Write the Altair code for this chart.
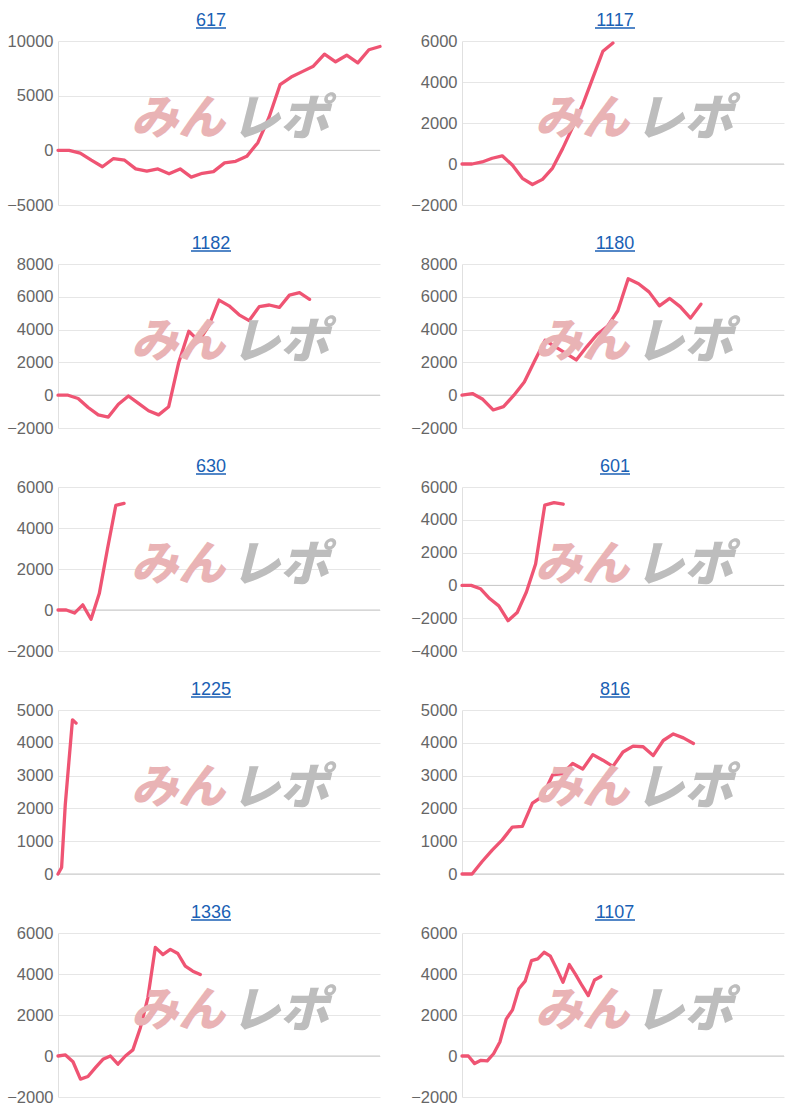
import altair as alt
import pandas as pd

titles = ["617", "1117", "1182", "1180", "630", "601", "1225", "816", "1336", "1107"]

# number of x slots on each panel's horizontal axis
slots = [30, 33, 33, 32, 40, 36, 90, 33, 44, 52]

s617 = [0, 0, -250, -900, -1500, -750, -900, -1700, -1900, -1700, -2150, -1700, -2450,
        -2100, -1950, -1150, -1000, -550, 700, 3000, 6000, 6700, 7200, 7700, 8800, 8100,
        8700, 8000, 9200, 9500]
s1117 = [0, 0, 100, 280, 400, -50, -700, -1000, -750, -200, 750, 1800, 2900, 4200, 5500, 5900]
s1182 = [0, 0, -200, -750, -1200, -1330, -550, -50, -500, -950, -1200, -700, 2000, 3900,
         3300, 4250, 5800, 5450, 4900, 4550, 5400, 5500, 5350, 6100, 6250, 5850]
s1180 = [0, 100, -250, -900, -700, 0, 800, 2100, 3350, 2950, 2550, 2150, 2950, 3700, 4200,
         5150, 7100, 6800, 6300, 5450, 5900, 5400, 4700, 5550]
s630 = [0, 0, -150, 250, -450, 800, 3000, 5100, 5200]
s601 = [0, 0, -200, -800, -1250, -2150, -1650, -400, 1300, 4900, 5050, 4950]
s1225 = [0, 200, 2100, 3400, 4700, 4600]
s816 = [0, 0, 380, 730, 1040, 1430, 1450, 2160, 2370, 3020, 3060, 3370, 3200, 3640, 3470,
        3280, 3720, 3900, 3880, 3610, 4070, 4270, 4150, 3980]
s1336 = [0, 50, -280, -1130, -1000, -570, -160, 0, -400, 0, 300, 1380, 2840, 5300, 4950,
         5200, 5000, 4380, 4140, 3970]
s1107 = [0, 0, -370, -210, -240, 110, 680, 1800, 2250, 3280, 3650, 4650, 4740, 5060, 4870,
         4250, 3600, 4460, 3970, 3440, 2950, 3710, 3880]

series = [s617, s1117, s1182, s1180, s630, s601, s1225, s816, s1336, s1107]

ticks_a = [-2000, 0, 2000, 4000, 6000]
ticks_b = [-2000, 0, 2000, 4000, 6000, 8000]
ticks_c = [0, 1000, 2000, 3000, 4000, 5000]
y_ticks = [
    [-5000, 0, 5000, 10000],
    ticks_a,
    ticks_b,
    ticks_b,
    ticks_a,
    [-4000, -2000, 0, 2000, 4000, 6000],
    ticks_c,
    ticks_c,
    ticks_a,
    ticks_a,
]

W = 322
H = 164
LINE = "#ef5473"
BLUE = "#1a5fb4"
one = pd.DataFrame({"k": [0]})


def panel(i):
    vals = series[i]
    df = pd.DataFrame({"x": list(range(len(vals))), "y": vals})
    ticks = y_ticks[i]
    ys = alt.Scale(domain=[ticks[0], ticks[-1]], nice=False, zero=False)
    xs = alt.Scale(domain=[0, slots[i] - 1], nice=False, zero=False)
    yaxis = alt.Axis(values=ticks, grid=True, gridColor="#e6e6e6", domainColor="#e0e0e0",
                     ticks=False, labelFontSize=16.5, labelColor="#666666",
                     labelFont="Liberation Sans", labelPadding=5, minExtent=50,
                     maxExtent=50, title=None, format="d")

    mark1 = alt.Chart(one).mark_text(text="みん", font="Noto Sans CJK JP", fontSize=47,
                                     fontWeight=900, fontStyle="italic",
                                     color="#e9b3b5", align="center",
                                     baseline="middle").encode(
        x=alt.value(120), y=alt.value(79))
    mark2 = alt.Chart(one).mark_text(text="レポ", font="Noto Sans CJK JP", fontSize=49,
                                     fontWeight=900, fontStyle="italic",
                                     color="#bdbdbd", align="center",
                                     baseline="middle").encode(
        x=alt.value(222), y=alt.value(79))

    zero = alt.Chart(one).transform_calculate(z="0").mark_rule(
        color="#c8c8c8", strokeWidth=1).encode(
        y=alt.Y("z:Q", scale=ys, axis=yaxis))

    line = alt.Chart(df).mark_line(color=LINE, strokeWidth=3.3, strokeJoin="round",
                                   strokeCap="round").encode(
        x=alt.X("x:Q", scale=xs, axis=None),
        y=alt.Y("y:Q", scale=ys, axis=yaxis),
    )

    tw = 10 * len(titles[i])
    cx = W / 2 - 8
    title = alt.Chart(one).mark_text(text=titles[i], font="Liberation Sans", fontSize=18,
                                     color=BLUE, align="center",
                                     baseline="alphabetic").encode(
        x=alt.value(cx), y=alt.value(-15))
    underline = alt.Chart(one).mark_rule(color=BLUE, strokeWidth=1.5).encode(
        x=alt.value(cx - tw / 2), x2=alt.value(cx + tw / 2), y=alt.value(-13))

    return alt.layer(zero, line, mark1, mark2, title, underline).properties(
        width=W, height=H,
    )


chart = alt.concat(*[panel(i) for i in range(10)], columns=2,
                   spacing={"row": 21, "column": 28}).properties(
    padding={"left": 6, "top": 12, "right": 5, "bottom": 5},
).configure_view(stroke=None)

chart.save("out.html", embed_options={"renderer": "svg", "actions": False})
